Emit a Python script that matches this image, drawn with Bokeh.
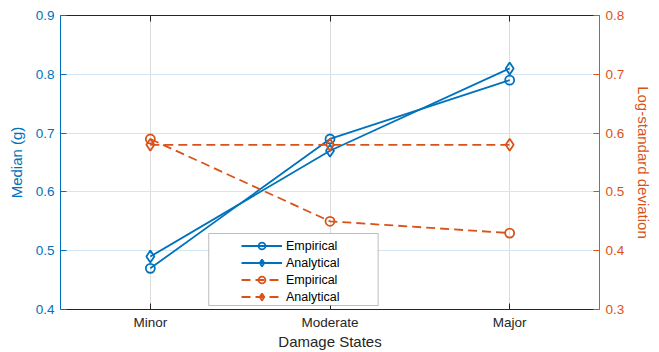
from bokeh.plotting import figure
from bokeh.models import (Range1d, LinearAxis, FixedTicker, Legend, LegendItem, BoxAnnotation,
                          CustomJSTickFormatter)
from bokeh.embed import file_html
from bokeh.resources import INLINE

categories = ["Minor", "Moderate", "Major"]
cat_pos = [1, 2, 3]
median_empirical = [0.47, 0.69, 0.79]
median_analytical = [0.49, 0.67, 0.81]
beta_empirical = [0.59, 0.45, 0.43]
beta_analytical = [0.58, 0.58, 0.58]
left_ticks = [0.4, 0.5, 0.6, 0.7, 0.8, 0.9]
right_ticks = [0.3, 0.4, 0.5, 0.6, 0.7, 0.8]

BLUE = "#0072BD"
ORANGE = "#D95319"
DARK = "#262626"
FONT = "Liberation Sans"

p = figure(width=659, height=352, x_range=Range1d(0.5, 3.5), y_range=Range1d(0.4, 0.9),
           output_backend="svg", toolbar_location=None,
           min_border_left=60, min_border_right=60, min_border_top=15, min_border_bottom=43)
p.extra_y_ranges = {"right": Range1d(0.3, 0.8)}
p.outline_line_color = None
p.background_fill_color = "white"
p.border_fill_color = "white"

# x axis
xa = p.xaxis[0]
xa.ticker = FixedTicker(ticks=cat_pos)
xa.major_label_overrides = {c: n for c, n in zip(cat_pos, categories)}
xa.axis_label = "Damage States"
xa.axis_label_text_font_style = "normal"
xa.axis_label_text_font = FONT
xa.axis_label_text_font_size = "15px"
xa.axis_label_text_color = DARK
xa.axis_label_standoff = 0
xa.major_label_text_font = FONT
xa.major_label_text_font_size = "13.5px"
xa.major_label_text_color = DARK
xa.major_label_standoff = 5
xa.major_tick_in = 6
xa.major_tick_out = 0
xa.minor_tick_line_color = None
xa.axis_line_color = DARK
xa.major_tick_line_color = DARK

# left y axis
ya = p.yaxis[0]
ya.ticker = FixedTicker(ticks=left_ticks)
ya.axis_label = "Median (g)"
ya.axis_label_text_font_style = "normal"
ya.axis_label_text_font = FONT
ya.axis_label_text_font_size = "15px"
ya.axis_label_text_color = BLUE
ya.axis_label_standoff = 8
ya.major_label_text_font = FONT
ya.major_label_text_font_size = "13.5px"
ya.major_label_text_color = BLUE
ya.major_label_standoff = 6
ya.major_tick_in = 6
ya.major_tick_out = 0
ya.minor_tick_line_color = None
ya.axis_line_color = BLUE
ya.major_tick_line_color = BLUE

# right y axis
ra = LinearAxis(y_range_name="right", ticker=FixedTicker(ticks=right_ticks),
                axis_label="Log-standard deviation", axis_label_text_font_style="normal",
                axis_label_text_font=FONT, axis_label_text_font_size="15px",
                axis_label_text_color=ORANGE, axis_label_standoff=8,
                major_label_text_font=FONT, major_label_text_font_size="13.5px",
                major_label_text_color=ORANGE, major_label_standoff=6,
                major_tick_in=6, major_tick_out=0, minor_tick_line_color=None,
                axis_line_color=ORANGE, major_tick_line_color=ORANGE)
p.add_layout(ra, "right")

# top axis (box edge with inward ticks, no labels)
ta = LinearAxis(ticker=FixedTicker(ticks=cat_pos),
                formatter=CustomJSTickFormatter(code="return ''"),
                major_label_standoff=0, major_tick_in=6, major_tick_out=0,
                minor_tick_line_color=None, axis_line_color=DARK, major_tick_line_color=DARK)
p.add_layout(ta, "above")

# grids
p.xgrid.ticker = FixedTicker(ticks=cat_pos)
p.xgrid.grid_line_color = "#dcdcdc"
p.ygrid.ticker = FixedTicker(ticks=left_ticks)
p.ygrid.grid_line_color = "#d4e6f4"

LW = 1.8
l1 = p.line(cat_pos, median_empirical, line_color=BLUE, line_width=LW)
s1 = p.scatter(cat_pos, median_empirical, marker="circle", size=9, line_color=BLUE,
               fill_color=None, line_width=LW)
l2 = p.line(cat_pos, median_analytical, line_color=BLUE, line_width=LW)
s2 = p.scatter(cat_pos, median_analytical, marker="diamond", size=12, line_color=BLUE,
               fill_color=None, line_width=LW)
l3 = p.line(cat_pos, beta_empirical, line_color=ORANGE, line_width=LW, line_dash="9 5",
            y_range_name="right")
s3 = p.scatter(cat_pos, beta_empirical, marker="circle", size=9, line_color=ORANGE,
               fill_color=None, line_width=LW, y_range_name="right")
l4 = p.line(cat_pos, beta_analytical, line_color=ORANGE, line_width=LW, line_dash="9 5",
            y_range_name="right")
s4 = p.scatter(cat_pos, beta_analytical, marker="diamond", size=12, line_color=ORANGE,
               fill_color=None, line_width=LW, y_range_name="right")

# legend frame
box = BoxAnnotation(left=1.325, right=2.268, bottom=0.4068, top=0.5293,
                    fill_color="white", fill_alpha=1.0, line_color=DARK, line_width=1)
p.add_layout(box)

legend = Legend(items=[
    LegendItem(label="Empirical", renderers=[l1, s1]),
    LegendItem(label="Analytical", renderers=[l2, s2]),
    LegendItem(label="Empirical", renderers=[l3, s3]),
    LegendItem(label="Analytical", renderers=[l4, s4]),
], location=(181, 4), padding=2, spacing=0, margin=0, glyph_width=41, glyph_height=17,
    label_height=17, label_standoff=4, label_text_font=FONT, label_text_font_size="12.5px",
    label_text_color="black", background_fill_alpha=0, border_line_color=None)
p.add_layout(legend)

open("out.html", "w").write(file_html(p, INLINE))
